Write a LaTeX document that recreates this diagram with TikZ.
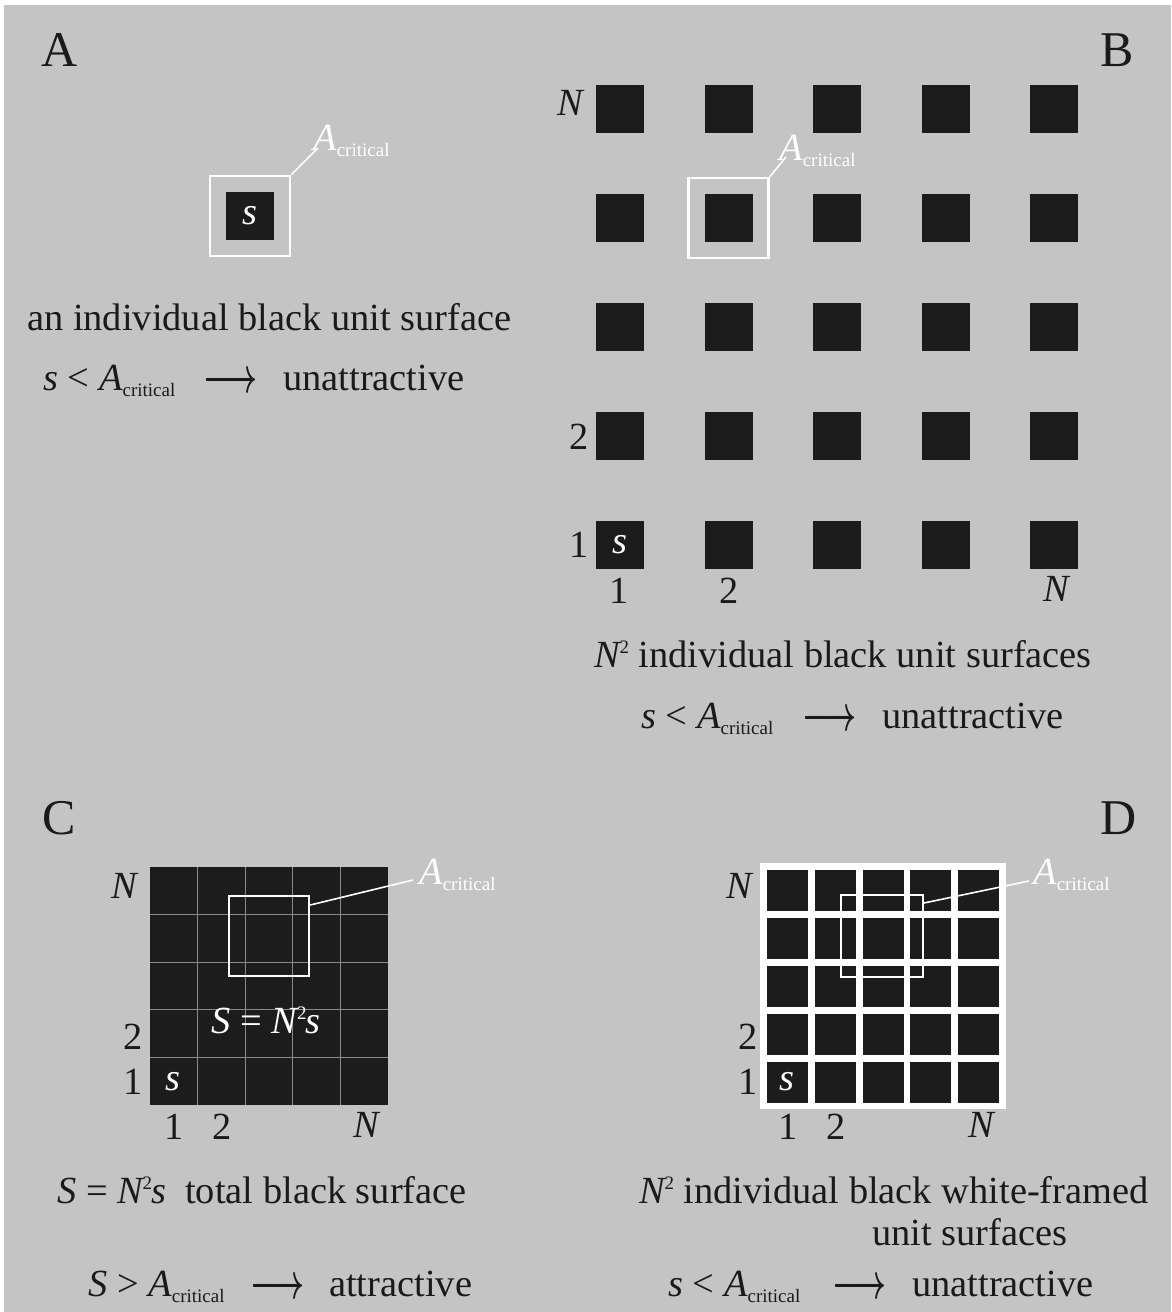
\RequirePackage{fix-cm}
\documentclass[tikz,border=0pt]{standalone}
\usepackage{fontspec}
\setmainfont{Liberation Serif}
\usepackage{graphicx}
\definecolor{bg}{HTML}{C4C4C4}
\definecolor{blk}{HTML}{1C1C1C}
\definecolor{ink}{HTML}{1A1A1A}
\definecolor{gridc}{HTML}{8A8A8A}
\newcommand{\critsub}{\fontsize{19}{20}\selectfont critical}
\newcommand{\Acr}{\textit{A}\raisebox{-6pt}{\critsub}}
\newcommand{\Nsq}{\textit{N}\kern-2pt\raisebox{14pt}{\fontsize{19}{20}\selectfont 2}}
\newcommand{\arr}{\raisebox{-2.5pt}{\scalebox{0.77}[1.3]{\boldmath$\longrightarrow$}}}
\begin{document}
\begin{tikzpicture}[x=1pt,y=-1pt,
  txt/.style={font=\fontsize{38.4}{44}\selectfont, text=ink, inner sep=0pt},
  big/.style={font=\fontsize{50}{56}\selectfont, text=ink, inner sep=0pt},
  wtxt/.style={font=\fontsize{38.4}{44}\selectfont, text=white, inner sep=0pt},
  cell/.style={fill=blk, minimum size=48pt, inner sep=0pt, draw=none},
  frame/.style={draw=white, line width=2.6pt, minimum size=80pt, inner sep=0pt},
  leader/.style={draw=white, line width=1.6pt}]
\useasboundingbox (0,0) rectangle (1171,1312);
\fill[white] (0,0) rectangle (1171,1312);
\fill[bg] (4,5) rectangle (1171,1312);

% ---------- Panel A ----------
\node[big] (pA) at (60,50) {A};
\node[frame] (frA) at (250,216) {};
\node[cell, font=\fontsize{38.4}{44}\selectfont, text=white] (sqA) at (250,216) {\textit{s}};
\node[wtxt, anchor=base west] (labA) at (313,150) {\Acr};
\coordinate (lA) at (318,148);
\draw[leader] (frA.north east) -- (lA);
\node[txt, anchor=base west] (tA1) at (27,330) {an individual black unit surface};
\node[txt, anchor=base west] (fA) at (43,390) {\textit{s} < \Acr};
\node[txt, anchor=base west] (arA) at (203,390) {\arr};
\node[txt, anchor=base west] (uA) at (283,390) {unattractive};

% ---------- Panel B ----------
\node[big] (pB) at (1117,50) {B};
\foreach \i in {0,...,4}
  \foreach \j in {0,...,4}
    \node[cell] (b\i\j) at ({620+108.6*\i},{109+109*\j}) {};
\node[wtxt] (sB) at (b04) {\textit{s}};
\node[frame] (frB) at (b11) {};
\node[wtxt, anchor=base west] (labB) at (779,160) {\Acr};
\coordinate (lB) at (786,157);
\draw[leader] (frB.north east) -- (lB);
\node[txt] (bN) at (571,103) {\textit{N}};
\node[txt] (b2) at (579,437) {2};
\node[txt] (b1) at (579,545) {1};
\node[txt] (bc1) at (619,591) {1};
\node[txt] (bc2) at (729,591) {2};
\node[txt] (bcN) at (1057,589) {\textit{N}};
\node[txt, anchor=base west] (tB1) at (594,667) {\Nsq{} individual black unit surfaces};
\node[txt, anchor=base west] (fB) at (641,728) {\textit{s} < \Acr};
\node[txt, anchor=base west] (arB) at (802,728) {\arr};
\node[txt, anchor=base west] (uB) at (882,728) {unattractive};

% ---------- Panel C ----------
\node[big] (pC) at (59,818) {C};
\fill[blk] (150,867) rectangle (388,1105);
\foreach \k in {1,...,4} {
  \draw[gridc, line width=0.8pt] ({150+47.6*\k},867) -- ({150+47.6*\k},1105);
  \draw[gridc, line width=0.8pt] (150,{867+47.6*\k}) -- (388,{867+47.6*\k});
}
\node[frame] (frC) at (269,936) {};
\node[wtxt, anchor=base west] (labC) at (419,884) {\Acr};
\coordinate (lC) at (413,880);
\draw[leader] (frC.east |- 0,905) -- (lC);
\node[wtxt] (SC) at (266,1020) {\textit{S} = \Nsq\kern-1pt\textit{s}};
\node[wtxt] (sC) at (173,1082) {\textit{s}};
\node[txt] (cN) at (125,886) {\textit{N}};
\node[txt] (c2) at (133,1037) {2};
\node[txt] (c1) at (133,1082) {1};
\node[txt] (cc1) at (174,1127) {1};
\node[txt] (cc2) at (222,1127) {2};
\node[txt] (ccN) at (367,1125) {\textit{N}};
\node[txt, anchor=base west] (tC1) at (57,1203) {\textit{S} = \Nsq\kern-1pt\textit{s}\ \ total black surface};
\node[txt, anchor=base west] (fC) at (88,1296) {\textit{S} > \Acr};
\node[txt, anchor=base west] (arC) at (250,1296) {\arr};
\node[txt, anchor=base west] (uC) at (329,1296) {attractive};

% ---------- Panel D ----------
\node[big] (pD) at (1119,818) {D};
\fill[white] (760,863) rectangle (1006,1109);
\foreach \i in {0,...,4}
  \foreach \j in {0,...,4}
    \fill[blk] ({767+47.8*\i},{870+47.9*\j}) rectangle ++(41,41);
\node[draw=white, line width=1.8pt, minimum size=82pt, inner sep=0pt] (frD) at (882,936) {};
\node[wtxt, anchor=base west] (labD) at (1033,884) {\Acr};
\coordinate (lD) at (1029,881);
\draw[leader] (frD.east |- 0,903) -- (lD);
\node[wtxt] (sD) at (787,1082) {\textit{s}};
\node[txt] (dN) at (740,886) {\textit{N}};
\node[txt] (d2) at (748,1037) {2};
\node[txt] (d1) at (748,1082) {1};
\node[txt] (dc1) at (788,1127) {1};
\node[txt] (dc2) at (836,1127) {2};
\node[txt] (dcN) at (982,1125) {\textit{N}};
\node[txt, anchor=base west] (tD1) at (639,1203) {\Nsq{} individual black white-framed};
\node[txt, anchor=base west] (tD2) at (872,1245) {unit surfaces};
\node[txt, anchor=base west] (fD) at (668,1296) {\textit{s} < \Acr};
\node[txt, anchor=base west] (arD) at (832,1296) {\arr};
\node[txt, anchor=base west] (uD) at (912,1296) {unattractive};
\end{tikzpicture}
\end{document}
